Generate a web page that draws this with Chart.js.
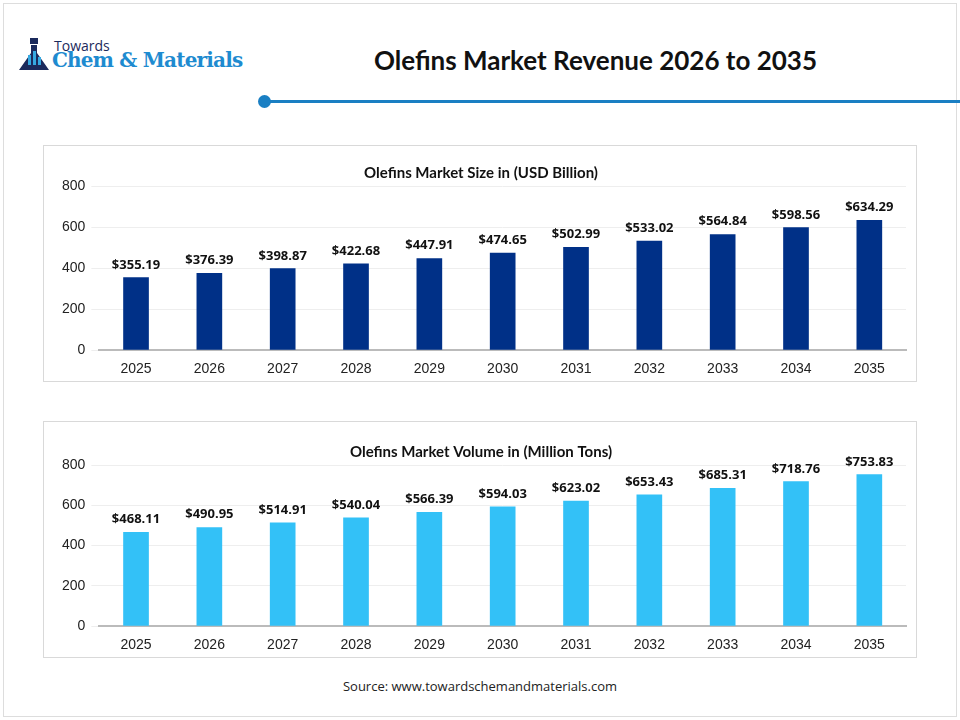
<!DOCTYPE html>
<html>
<head>
<meta charset="utf-8">
<script src="https://cdn.jsdelivr.net/npm/chart.js@4.4.1/dist/chart.umd.min.js"></script>
<style>
  body { margin: 0; width: 960px; height: 720px; background: #fff; font-family: "Open Sans", sans-serif; position: relative; overflow: hidden; }
  .frame { position: absolute; left: 3px; top: 3px; width: 952px; height: 712px; border: 1px solid #ddd; }
  .panel { position: absolute; left: 43px; width: 874px; height: 237px; border: 1px solid #d9d9d9; box-sizing: border-box; }
  .logo-small { position: absolute; left: 54px; top: 36px; font-size: 14px; color: #1b2a5c; }
  .logo-big { position: absolute; left: 52px; top: 48px; font-family: "DejaVu Serif", serif; font-weight: bold; font-size: 20px; color: #1e8bd0; letter-spacing: -0.8px; }
  .title { position: absolute; left: 374px; top: 44px; font-size: 26px; font-weight: bold; color: #111; font-family: "Lato", sans-serif; }
  .line { position: absolute; left: 265px; top: 100px; width: 695px; height: 3px; background: #1a7fc3; }
  .dot { position: absolute; left: 258px; top: 95px; width: 13px; height: 13px; border-radius: 50%; background: #1a7fc3; }
  .source { position: absolute; left: 0; width: 960px; top: 677px; text-align: center; font-size: 13px; color: #222; }
</style>
</head>
<body>
<div class="frame"></div>
<svg style="position:absolute;left:17px;top:37px" width="36" height="36" viewBox="0 0 36 36">
  <rect x="13" y="1" width="8" height="6" fill="#1b2a5c"/>
  <path d="M14 8 L20 8 L20 16 L32 33 L2 33 L14 16 Z" fill="#1b2a5c"/>
  <rect x="11" y="18" width="3" height="10" fill="#36a9e1"/>
  <rect x="16" y="14" width="3" height="14" fill="#36a9e1"/>
  <rect x="21" y="20" width="3" height="8" fill="#36a9e1"/>
</svg>
<div class="logo-small">Towards</div>
<div class="logo-big">Chem &amp; Materials</div>
<div class="title">Olefins Market Revenue 2026 to 2035</div>
<div class="line"></div><div class="dot"></div>
<div class="panel" style="top:145px"><canvas id="c1" width="872" height="235"></canvas></div>
<div class="panel" style="top:421px"><canvas id="c2" width="872" height="235"></canvas></div>
<div class="source">Source: www.towardschemandmaterials.com</div>
<script>
const years = ['2025','2026','2027','2028','2029','2030','2031','2032','2033','2034','2035']
const sizeValues = [355.19, 376.39, 398.87, 422.68, 447.91, 474.65, 502.99, 533.02, 564.84, 598.56, 634.29]
const volumeValues = [468.11, 490.95, 514.91, 540.04, 566.39, 594.03, 623.02, 653.43, 685.31, 718.76, 753.83]

const valueLabels = {
    id: 'valueLabels',
    afterDatasetsDraw(chart) {
        const ctx = chart.ctx
        const meta = chart.getDatasetMeta(0)
        ctx.save()
        ctx.font = 'bold 13px "Open Sans", sans-serif'
        ctx.fillStyle = '#111'
        ctx.textAlign = 'center'
        ctx.textBaseline = 'bottom'
        meta.data.forEach((bar, i) => {
            ctx.fillText('$' + chart.data.datasets[0].data[i].toFixed(2), bar.x, bar.y - 6)
        })
        ctx.restore()
    }
}

const makeChart = (id, title, values, color, top) => new Chart(document.getElementById(id), {
    type: 'bar',
    data: { labels: years, datasets: [{ data: values, backgroundColor: color, barPercentage: 0.35, categoryPercentage: 1 }] },
    options: {
        responsive: false,
        animation: false,
        layout: { padding: { left: 12, right: 10, top: top, bottom: 0 } },
        plugins: {
            legend: { display: false },
            tooltip: { enabled: false },
            title: { display: true, text: title, color: '#111', font: { size: 15, weight: 'bold', family: 'Lato' }, padding: { top: 10, bottom: 4 } }
        },
        scales: {
            x: { grid: { display: false }, border: { color: '#bbb', width: 2 }, ticks: { color: '#222', font: { size: 14 }, padding: 3 } },
            y: { min: 0, max: 800, ticks: { stepSize: 200, color: '#222', font: { size: 14 }, padding: 6 }, grid: { color: '#eee' }, border: { display: false } }
        }
    },
    plugins: [valueLabels]
})

makeChart('c1', 'Olefins Market Size in (USD Billion)', sizeValues, '#003087', 8)
makeChart('c2', 'Olefins Market Volume in (Million Tons)', volumeValues, '#33c1f7', 11)
</script>
</body>
</html>
